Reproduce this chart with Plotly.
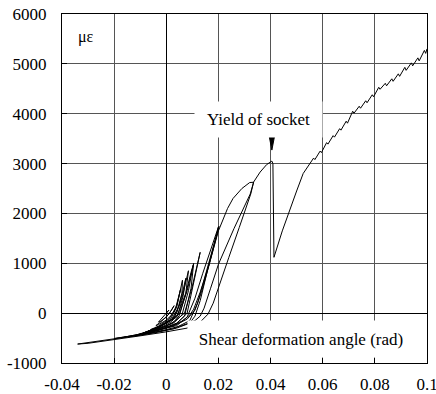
import plotly.graph_objects as go

# ---------------- data ----------------
# small cycles around the origin (shear angle rad, strain micro-epsilon)
cycA_x = [0.0, 0.001, 0.0005, -0.001, -0.003, -0.002, 0.0]
cycA_y = [0, 60, 20, -80, -180, -160, -80]
cycB_x = [0.002, 0.003, 0.0025, 0.001, -0.002, -0.004, -0.003, 0.0]
cycB_y = [60, 150, 90, -20, -170, -250, -230, -140]
cycC_x = [0.002, 0.004, 0.0055, 0.005, 0.0035, 0.001, -0.003, -0.006, -0.0045, -0.001]
cycC_y = [-40, 150, 480, 380, 80, -120, -260, -330, -310, -230]
cycD_x = [0.002, 0.004, 0.006, 0.0062, 0.0056, 0.004, 0.0015, -0.003, -0.007, -0.005, -0.001]
cycD_y = [-140, 0, 400, 660, 520, 120, -130, -280, -360, -340, -260]
cycE_x = [0.002, 0.0045, 0.0065, 0.0075, 0.0068, 0.005, 0.002, -0.004, -0.008, -0.006, -0.001]
cycE_y = [-170, -20, 350, 700, 560, 150, -130, -300, -380, -360, -280]
cycF_x = [0.003, 0.005, 0.0075, 0.0085, 0.0078, 0.006, 0.003, -0.004, -0.009, -0.007, -0.002]
cycF_y = [-170, -50, 400, 850, 700, 300, -100, -310, -400, -380, -300]
cycG_x = [0.003, 0.006, 0.0085, 0.0103, 0.0095, 0.0075, 0.004, -0.004, -0.010, -0.008, -0.002]
cycG_y = [-190, -40, 450, 960, 820, 400, -80, -320, -420, -400, -320]
cycH_x = [0.004, 0.007, 0.0095, 0.0105, 0.0098, 0.008, 0.005, -0.003, -0.011, -0.008, -0.002]
cycH_y = [-200, -60, 500, 1000, 860, 450, -20, -300, -430, -410, -330]
cycI_x = [0.004, 0.008, 0.0105, 0.013, 0.0122, 0.0098, 0.007, 0.002, -0.005, -0.012, -0.009, -0.003]
cycI_y = [-210, 0, 600, 1220, 1050, 500, 0, -210, -360, -450, -420, -340]
# cycles to about 0.02 rad
cycJ_x = [0.004, 0.008, 0.011, 0.014, 0.017, 0.02, 0.0192, 0.016, 0.013, 0.0105, 0.009, 0.006,
          0.002, -0.006, -0.014, -0.020, -0.015, -0.006]
cycJ_y = [-250, -80, 300, 800, 1280, 1730, 1550, 900, 420, 80, -40, -160, -260, -380, -460, -510,
          -480, -400]
cycK_x = [0.003, 0.009, 0.012, 0.015, 0.018, 0.0202, 0.0195, 0.0165, 0.0135, 0.011, 0.008, 0.003,
          -0.005, -0.012, -0.016, -0.012, -0.004]
cycK_y = [-310, -150, 200, 750, 1300, 1740, 1580, 980, 420, 60, -120, -250, -370, -440, -480,
          -460, -390]
# cycle to about 0.033 rad, then to -0.034 rad
cycL_x = [0.004, 0.009, 0.011, 0.013, 0.016, 0.02, 0.0235, 0.0256, 0.029, 0.032, 0.0335,
          0.0322, 0.026, 0.02, 0.017, 0.0145, 0.013, 0.011, 0.006, 0.0, -0.01, -0.02, -0.03, -0.034]
cycL_y = [-300, -200, -60, 250, 900, 1650, 2100, 2300, 2500, 2620, 2625,
          2390, 1700, 980, 500, 100, -60, -150, -250, -330, -440, -520, -590, -620]
# final loading up to the yield of the socket and the sudden drop
yield_x = 0.0405
yield_y = 3050
final_x = [-0.03, -0.02, -0.01, 0.0, 0.008, 0.013, 0.016, 0.018, 0.02, 0.024, 0.028, 0.0324,
           0.0335, 0.036, 0.0385, yield_x, 0.0409, 0.0411, 0.0413]
final_y = [-605, -535, -455, -375, -300, -180, -20, 200, 520, 1120, 1720, 2390,
           2630, 2830, 2980, yield_y, 3000, 2000, 1120]
# post-yield branch with small saw-tooth steps
post_x = [0.0445, 0.0475, 0.050, 0.0525, 0.055, 0.0565, 0.057, 0.059, 0.0595, 0.0615, 0.062,
          0.064, 0.0645, 0.0665, 0.067, 0.069, 0.0695, 0.0715, 0.072, 0.074, 0.0745, 0.0765,
          0.077, 0.079, 0.0795, 0.0815, 0.082, 0.084, 0.0845, 0.0865, 0.087, 0.089, 0.0895,
          0.0915, 0.092, 0.094, 0.0945, 0.0965, 0.097, 0.099, 0.0995, 0.1]
post_y = [1650, 2100, 2450, 2800, 3010, 3110, 3080, 3250, 3220, 3420, 3390,
          3560, 3530, 3700, 3670, 3850, 3810, 4050, 4010, 4150, 4110, 4260,
          4220, 4380, 4340, 4530, 4490, 4610, 4560, 4700, 4650, 4800, 4750,
          4930, 4870, 5020, 4960, 5120, 5060, 5270, 5210, 5300]

x_ticks = [-0.04, -0.02, 0, 0.02, 0.04, 0.06, 0.08, 0.1]
x_tick_labels = ["-0.04", "-0.02", "0", "0.02", "0.04", "0.06", "0.08", "0.1"]
y_ticks = [-1000, 0, 1000, 2000, 3000, 4000, 5000, 6000]
y_tick_labels = ["-1000", "0", "1000", "2000", "3000", "4000", "5000", "6000"]

# ---------------- build path ----------------
xs, ys = [], []
for cx, cy in [(cycA_x, cycA_y), (cycB_x, cycB_y), (cycC_x, cycC_y), (cycD_x, cycD_y),
               (cycE_x, cycE_y), (cycF_x, cycF_y), (cycG_x, cycG_y), (cycH_x, cycH_y),
               (cycI_x, cycI_y), (cycJ_x, cycJ_y), (cycK_x, cycK_y), (cycL_x, cycL_y),
               (final_x, final_y), (post_x, post_y)]:
    xs += cx
    ys += cy

FONT = "Liberation Serif, Times New Roman, serif"

fig = go.Figure()
fig.add_trace(go.Scatter(x=xs, y=ys, mode="lines",
                         line=dict(color="black", width=1), hoverinfo="skip"))

axis_common = dict(showgrid=True, gridcolor="#555555", gridwidth=1,
                   showline=True, linecolor="black", linewidth=1, mirror=True,
                   ticks="inside", ticklen=5, tickcolor="black", tickwidth=1,
                   zeroline=True, zerolinecolor="black", zerolinewidth=1,
                   automargin=False, ticklabeloverflow="allow",
                   tickfont=dict(family=FONT, size=17, color="black"))

fig.update_xaxes(range=[-0.04, 0.1000001], tickvals=x_ticks, ticktext=x_tick_labels,
                 ticklabelstandoff=6, **axis_common)
fig.update_yaxes(range=[-1000, 6000.001], tickvals=y_ticks, ticktext=y_tick_labels,
                 ticklabelstandoff=11, **axis_common)

fig.add_annotation(x=-0.0308, y=5535, text="με", showarrow=False,
                   font=dict(family=FONT, size=16, color="black"))
fig.add_annotation(x=0.0354, y=3880, text="Yield of socket", showarrow=False,
                   width=127, height=35, bgcolor="white", borderpad=0,
                   font=dict(family=FONT, size=17, color="black"))
fig.add_annotation(x=0.0517, y=-521, text="Shear deformation angle (rad)", showarrow=False,
                   width=226, height=36, bgcolor="white", borderpad=0,
                   font=dict(family=FONT, size=17, color="black"))

# narrow down-pointing marker above the yield point
fig.add_shape(type="path", xref="x", yref="y", xsizemode="pixel", ysizemode="pixel",
              xanchor=yield_x, yanchor=yield_y,
              path="M -2.5,24 L 2.5,24 L 0,11 Z",
              fillcolor="black", line=dict(color="black", width=1), layer="above")

fig.update_layout(width=436, height=394, margin=dict(l=62, r=9, t=14, b=31, autoexpand=False),
                  paper_bgcolor="white", plot_bgcolor="white", showlegend=False,
                  font=dict(family=FONT, size=17, color="black"))

# remove the page's default body margin so the figure fills the window exactly
fig.write_html("out.html", config={"displayModeBar": False},
               post_script="document.body.style.margin='0';document.body.style.overflow='hidden';")
